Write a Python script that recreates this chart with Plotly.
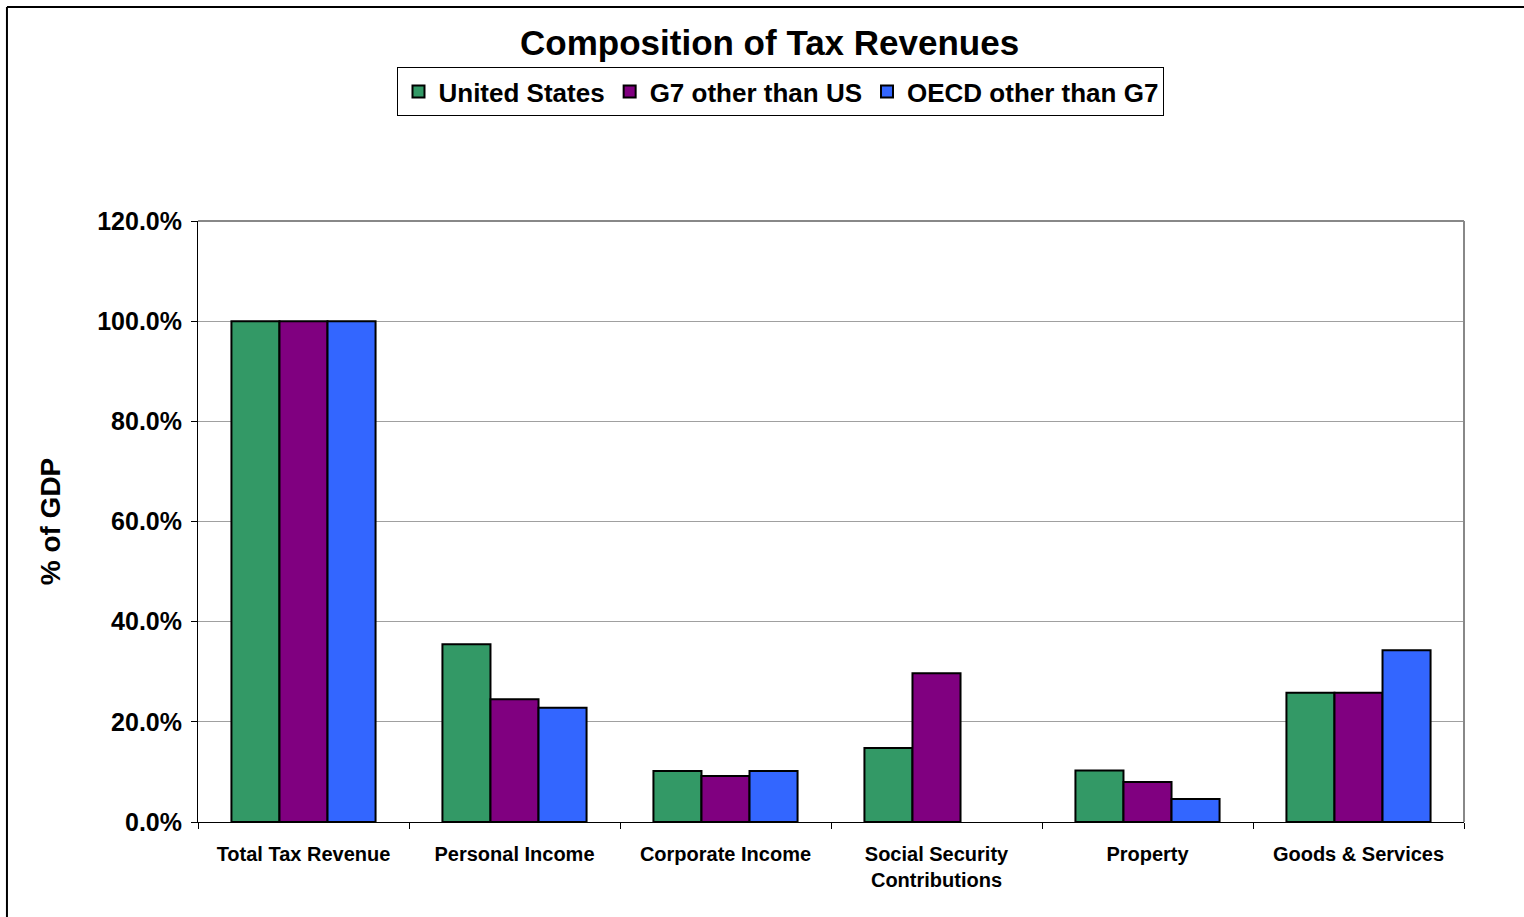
import plotly.graph_objects as go

categories = ["Total Tax Revenue", "Personal Income", "Corporate Income",
              "Social Security<br>Contributions", "Property", "Goods & Services"]
us = [100.0, 35.5, 10.2, 14.8, 10.3, 25.8]
g7 = [100.0, 24.5, 9.2, 29.7, 8.0, 25.8]
oecd = [100.0, 22.8, 10.2, None, 4.6, 34.3]
y_ticks = [0, 20, 40, 60, 80, 100, 120]

series = [("United States", us, "#339966"),
          ("G7 other than US", g7, "#800080"),
          ("OECD other than G7", oecd, "#3366FF")]

FONT = "Liberation Sans, Arial, sans-serif"

fig = go.Figure()
for name, vals, col in series:
    fig.add_trace(go.Bar(x=categories, y=vals, name=f"<b>{name}</b>",
                         marker=dict(color=col, line=dict(color="black", width=2))))

fig.update_layout(
    width=1524, height=917,
    margin=dict(l=198, r=60, t=221, b=95),
    paper_bgcolor="white", plot_bgcolor="white",
    barmode="group", bargap=0.317, bargroupgap=0,
    title=dict(text="<b>Composition of Tax Revenues</b>", x=0.505, xanchor="center",
               y=0.953, yanchor="middle", font=dict(family=FONT, size=35, color="black")),
    legend=dict(orientation="h", x=0.4605, xanchor="center", y=1.256, yanchor="top",
                bordercolor="black", borderwidth=1, bgcolor="white",
                font=dict(family=FONT, size=26, color="black"),
                itemwidth=30, tracegroupgap=0),
    font=dict(family=FONT, color="black"),
    showlegend=True,
)
fig.update_yaxes(range=[0, 120], tickvals=y_ticks,
                 ticktext=[f"<b>{v:.1f}%</b>" for v in y_ticks],
                 tickfont=dict(family=FONT, size=25, color="black"),
                 ticklabelstandoff=4,
                 showgrid=True, gridcolor="#a0a0a0", gridwidth=1,
                 showline=True, linecolor="black", linewidth=1,
                 ticks="outside", ticklen=6, tickcolor="black",
                 zeroline=False,
                 title=dict(text="<b>% of GDP</b>", font=dict(family=FONT, size=28, color="black"),
                            standoff=28))
fig.update_xaxes(showline=True, linecolor="black", linewidth=1,
                 ticks="outside", ticklen=6, tickcolor="black", tickson="boundaries",
                 tickfont=dict(family=FONT, size=20, color="black"),
                 ticklabelstandoff=14,
                 tickvals=categories,
                 ticktext=[f"<b>{c}</b>" for c in categories])

# plot border (top/right gray)
fig.add_shape(type="line", xref="paper", yref="paper", x0=0, x1=1, y0=1, y1=1,
              line=dict(color="#888888", width=2))
fig.add_shape(type="line", xref="paper", yref="paper", x0=1, x1=1, y0=0, y1=1,
              line=dict(color="#888888", width=2))
# outer chart frame
fig.add_shape(type="line", xref="paper", yref="paper", x0=-0.1509, x1=1.1, y0=1.356, y1=1.356,
              line=dict(color="black", width=2))
fig.add_shape(type="line", xref="paper", yref="paper", x0=-0.1509, x1=-0.1509, y0=1.356, y1=-0.2,
              line=dict(color="black", width=2))

fig.write_html("out.html")
